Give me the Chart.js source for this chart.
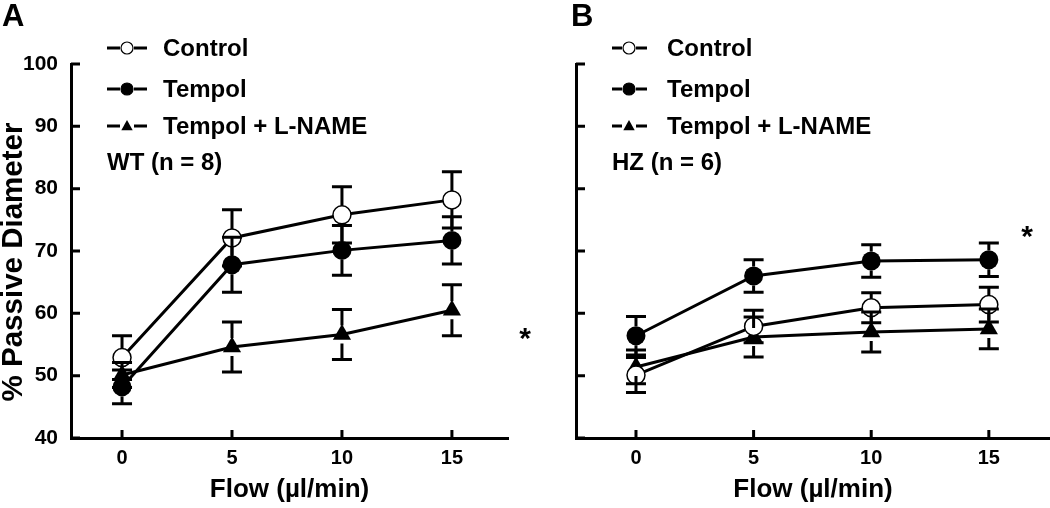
<!DOCTYPE html>
<html><head><meta charset="utf-8">
<script src="https://cdn.jsdelivr.net/npm/chart.js@4.4.1/dist/chart.umd.min.js"></script>
<style>
body{margin:0;background:#fff;width:1050px;height:508px;overflow:hidden;position:relative}
canvas{position:absolute;top:0}
#ca{left:0}#cb{left:540px}
</style></head><body>
<canvas id="ca" width="540" height="508"></canvas>
<canvas id="cb" width="510" height="508"></canvas>
<script>
// ---- data ----
const flows = [0, 5, 10, 15];
const xTicks = [0, 5, 10, 15];
const yTicks = [40, 50, 60, 70, 80, 90, 100];
const seriesNames = ['Control', 'Tempol', 'Tempol + L-NAME'];
const xTitle = 'Flow (µl/min)';
const yTitle = '% Passive Diameter';

// Panel A: WT (n = 8)
const ctrlA = [52.9, 72.1, 75.8, 78.2];
const ctrlA_se = [3.5, 4.5, 4.5, 4.5];
const tempA = [48.2, 67.8, 70.1, 71.7];
const tempA_se = [2.7, 4.4, 4.0, 3.8];
const lnameA = [50.1, 54.6, 56.6, 60.5];
const lnameA_se = [2.0, 4.0, 4.0, 4.1];

// Panel B: HZ (n = 6)
const ctrlB = [50.1, 57.9, 60.9, 61.4];
const ctrlB_se = [2.8, 2.6, 2.4, 2.8];
const tempB = [56.4, 66.0, 68.4, 68.6];
const tempB_se = [3.1, 2.6, 2.6, 2.7];
const lnameB = [51.4, 56.2, 57.0, 57.5];
const lnameB_se = [2.7, 3.2, 3.2, 3.2];

const FONT = '"Liberation Sans", Arial, Helvetica, sans-serif';

function dataset(label, vals, kind) {
  const base = {
    label,
    data: flows.map((f, i) => ({ x: f, y: vals[i] })),
    borderColor: '#000', borderWidth: 3, tension: 0,
    pointBorderColor: '#000', pointHoverRadius: 0
  };
  if (kind === 'open') return Object.assign(base, { pointStyle: 'circle', pointRadius: 9, pointBackgroundColor: '#fff', pointBorderWidth: 1.5 });
  if (kind === 'filled') return Object.assign(base, { pointStyle: 'circle', pointRadius: 9.5, pointBackgroundColor: '#000', pointBorderWidth: 0 });
  return Object.assign(base, { pointStyle: 'triangle', pointRadius: 10.5, pointBackgroundColor: '#000', pointBorderWidth: 0 });
}

function drawMarker(ctx, kind, x, y, r) {
  ctx.beginPath();
  if (kind === 'tri') {
    ctx.moveTo(x, y - r);
    ctx.lineTo(x + r * 0.95, y + r * 0.7);
    ctx.lineTo(x - r * 0.95, y + r * 0.7);
    ctx.closePath();
    ctx.fillStyle = '#000'; ctx.fill();
  } else {
    ctx.arc(x, y, r, 0, Math.PI * 2);
    ctx.fillStyle = kind === 'open' ? '#fff' : '#000';
    ctx.fill();
    ctx.lineWidth = 1.2; ctx.strokeStyle = '#000'; ctx.stroke();
  }
}

function makePanel(id, cfg) {
  const kinds = ['open', 'filled', 'tri'];
  const radii = [9, 9.5, 9];
  const panelPlugin = {
    id: 'panel_' + id,
    afterDatasetsDraw(chart) {
      const { ctx, scales: { x, y } } = chart;
      ctx.save();
      ctx.strokeStyle = '#000'; ctx.lineWidth = 3; ctx.lineCap = 'butt';
      cfg.series.forEach((s, k) => {
        flows.forEach((f, i) => {
          const px = x.getPixelForValue(f);
          const py = y.getPixelForValue(s[i]);
          const pt = y.getPixelForValue(s[i] + cfg.se[k][i]);
          const pb = y.getPixelForValue(s[i] - cfg.se[k][i]);
          const r = radii[k];
          ctx.beginPath();
          if (py - pt > r) { ctx.moveTo(px, py - r); ctx.lineTo(px, pt); }
          if (pb - py > r) { ctx.moveTo(px, py + r); ctx.lineTo(px, pb); }
          ctx.moveTo(px - 10, pt); ctx.lineTo(px + 10, pt);
          ctx.moveTo(px - 10, pb); ctx.lineTo(px + 10, pb);
          ctx.stroke();
        });
      });
      ctx.restore();
    },
    afterDraw(chart) {
      const { ctx, chartArea, scales: { x, y } } = chart;
      ctx.save();
      // inward tick marks
      ctx.strokeStyle = '#000'; ctx.lineWidth = 3;
      ctx.beginPath();
      yTicks.forEach(v => {
        const py = y.getPixelForValue(v);
        ctx.moveTo(chartArea.left, py); ctx.lineTo(chartArea.left + 9, py);
      });
      xTicks.forEach(v => {
        const px = x.getPixelForValue(v);
        ctx.moveTo(px, chartArea.bottom); ctx.lineTo(px, chartArea.bottom - 8);
      });
      ctx.stroke();
      ctx.fillStyle = '#000';
      // y axis title
      if (cfg.showY) {
        ctx.save();
        ctx.translate(14, 262);
        ctx.rotate(-Math.PI / 2);
        ctx.font = 'bold 29.5px ' + FONT;
        ctx.textAlign = 'center'; ctx.textBaseline = 'middle';
        ctx.fillText(yTitle, 0, 0);
        ctx.restore();
      }
      // panel letter
      ctx.font = 'bold 31px ' + FONT;
      ctx.textBaseline = 'middle'; ctx.textAlign = 'left';
      ctx.fillText(cfg.letter, cfg.letterX, 17);
      // legend
      const L = cfg.legend;
      const rows = [48, 89, 126];
      ctx.font = 'bold 24px ' + FONT;
      seriesNames.forEach((name, k) => {
        const yy = rows[k];
        ctx.strokeStyle = '#000'; ctx.lineWidth = 3;
        ctx.beginPath();
        ctx.moveTo(L.x0, yy); ctx.lineTo(L.xm - 7, yy);
        ctx.moveTo(L.xm + 7, yy); ctx.lineTo(L.x1, yy);
        ctx.stroke();
        drawMarker(ctx, kinds[k], L.xm, yy, 6);
        ctx.fillStyle = '#000';
        ctx.fillText(name, L.tx, yy + 1);
      });
      ctx.fillText(cfg.group, L.x0, 163);
      // significance star
      ctx.font = 'bold 30px ' + FONT;
      ctx.textAlign = 'center';
      ctx.fillText('*', cfg.star[0], cfg.star[1]);
      ctx.restore();
    }
  };

  return new Chart(document.getElementById(id), {
    type: 'line',
    data: {
      datasets: [
        dataset(seriesNames[0], cfg.series[0], 'open'),
        dataset(seriesNames[1], cfg.series[1], 'filled'),
        dataset(seriesNames[2], cfg.series[2], 'tri')
      ]
    },
    options: {
      responsive: false, animation: false,
      events: [],
      layout: { autoPadding: false, padding: { top: 64, right: cfg.padRight, left: 0, bottom: 0 } },
      plugins: { legend: { display: false }, tooltip: { enabled: false } },
      scales: {
        x: {
          type: 'linear', min: cfg.xMin, max: cfg.xMax,
          afterBuildTicks: s => { s.ticks = xTicks.map(v => ({ value: v })); },
          afterFit: s => { s.height = 70; },
          grid: { drawOnChartArea: false, drawTicks: false },
          border: { display: true, color: '#000', width: 3 },
          ticks: { color: '#000', font: { family: FONT, size: 20, weight: 'bold' }, padding: 8, maxRotation: 0 },
          title: { display: true, text: xTitle, color: '#000', font: { family: FONT, size: 26, weight: 'bold' }, padding: { top: 2, bottom: 3 } }
        },
        y: {
          min: 40, max: 100,
          afterBuildTicks: s => { s.ticks = yTicks.map(v => ({ value: v })); },
          afterFit: s => { s.width = cfg.yWidth; },
          grid: { drawOnChartArea: false, drawTicks: false },
          border: { display: true, color: '#000', width: 3 },
          ticks: { display: cfg.showY, color: '#000', font: { family: FONT, size: 21, weight: 'bold' }, padding: 13 },
          title: { display: false }
        }
      }
    },
    plugins: [panelPlugin]
  });
}

makePanel('ca', {
  series: [ctrlA, tempA, lnameA], se: [ctrlA_se, tempA_se, lnameA_se],
  xMin: -2.32, xMax: 17.55, yWidth: 71, padRight: 32, showY: true,
  letter: 'A', letterX: 2, group: 'WT (n = 8)',
  legend: { x0: 107, xm: 127, x1: 147, tx: 163 },
  star: [525, 340]
});
makePanel('cb', {
  series: [ctrlB, tempB, lnameB], se: [ctrlB_se, tempB_se, lnameB_se],
  xMin: -2.55, xMax: 17.6, yWidth: 36, padRight: 0, showY: false,
  letter: 'B', letterX: 31, group: 'HZ (n = 6)',
  legend: { x0: 72, xm: 89, x1: 107, tx: 127 },
  star: [487, 238]
});
</script>
</body></html>
